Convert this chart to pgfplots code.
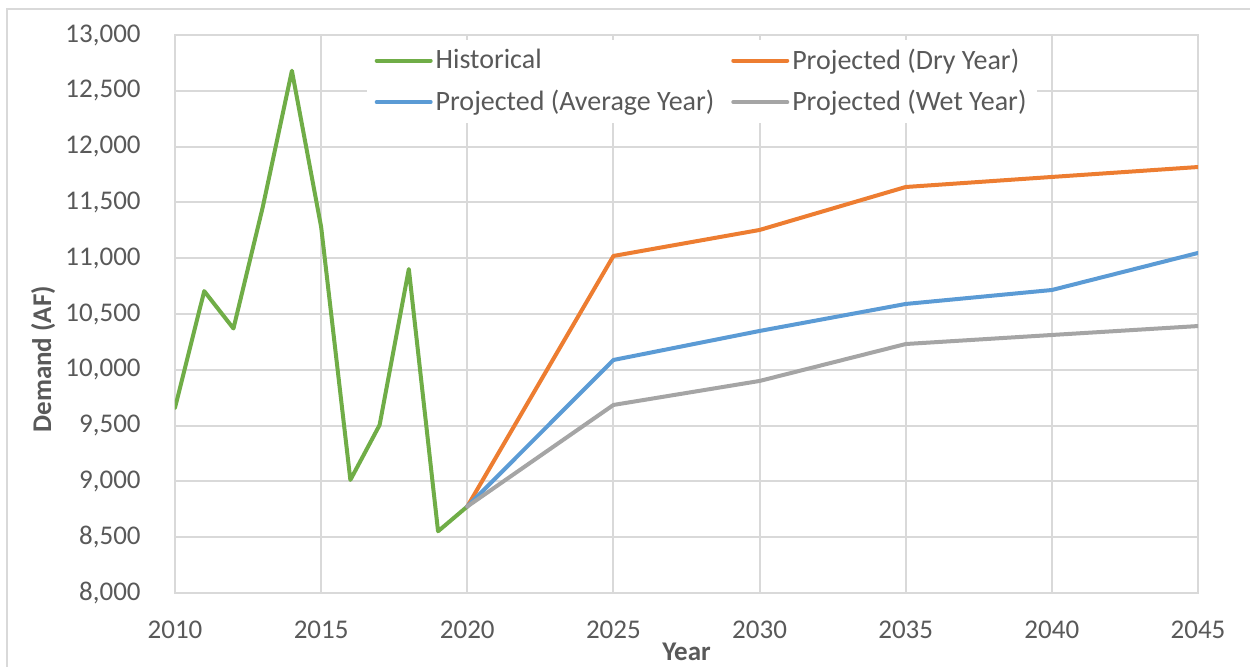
\documentclass[border=0pt]{standalone}
\usepackage{fontspec}
\setmainfont{Carlito}
\usepackage{pgfplots}
\pgfplotsset{compat=1.18}
\definecolor{txt}{HTML}{595959}
\definecolor{gridc}{HTML}{D9D9D9}
\definecolor{cgreen}{HTML}{70AD47}
\definecolor{corange}{HTML}{ED7D31}
\definecolor{cblue}{HTML}{5B9BD5}
\definecolor{cgray}{HTML}{A5A5A5}
\begin{document}
\begin{tikzpicture}
\useasboundingbox (0,0) rectangle (625pt,333pt);
\fill[white] (0,0) rectangle (625pt,333pt);
\draw[gridc, line width=1pt] (3.5pt,-5pt) -- (3.5pt,328.5pt) -- (630pt,328.5pt);
\begin{axis}[
  scale only axis,
  width=511.5pt, height=279pt,
  at={(87.5pt,36.5pt)}, anchor=south west,
  xmin=2010, xmax=2045, ymin=8000, ymax=13000,
  xtick={2010,2015,...,2045},
  ytick={8000,8500,...,13000},
  scaled y ticks=false,
  grid=major,
  major grid style={gridc, line width=1pt},
  axis line style={gridc, line width=1pt},
  major tick length=0pt,
  font=\fontsize{13.5}{16}\selectfont,
  tick label style={font=\fontsize{13.5}{16}\selectfont, text=txt},
  /pgf/number format/assume math mode=true,
  yticklabel style={/pgf/number format/1000 sep={,}, inner sep=0pt, xshift=-17pt},
  xticklabel style={/pgf/number format/1000 sep={}, inner sep=0pt, anchor=north, yshift=-14pt},
  xlabel={Year},
  ylabel={Demand (AF)},
  label style={font=\fontsize{13.5}{16}\selectfont\bfseries, text=txt},
  xlabel style={at={(axis description cs:0.5,0)}, anchor=base, yshift=-33.5pt},
  ylabel style={at={(axis description cs:-0.129,0.419)}, anchor=center},
  legend columns=2,
  legend cell align=left,
  legend image code/.code={\draw[#1, line cap=round] (0pt,0pt) -- (27pt,0pt);},
  legend style={
    at={(axis description cs:0.187,0.992)}, anchor=north west,
    draw=none, fill=white, text=txt,
    font=\fontsize{14}{16.5}\selectfont,
    inner xsep=4pt, inner ysep=3pt,
    row sep=6pt,
    nodes={inner sep=1.5pt},
    /tikz/every even column/.append style={column sep=7pt},
  },
  every axis plot/.append style={line width=2pt, line join=round, line cap=round},
]
\addplot[cgreen] coordinates {
 (2010,9660) (2011,10705) (2012,10370) (2013,11455) (2014,12680) (2015,11280)
 (2016,9013) (2017,9505) (2018,10903) (2019,8553) (2020,8775)};
\addlegendentry{Historical}
\addplot[corange] coordinates {
 (2020,8775) (2025,11020) (2030,11253) (2035,11638) (2040,11728) (2045,11817)};
\addlegendentry{Projected (Dry Year)}
\addplot[cblue] coordinates {
 (2020,8775) (2025,10088) (2030,10348) (2035,10590) (2040,10715) (2045,11047)};
\addlegendentry{Projected (Average Year)}
\addplot[cgray] coordinates {
 (2020,8775) (2025,9685) (2030,9900) (2035,10231) (2040,10312) (2045,10392)};
\addlegendentry{Projected (Wet Year)}
\end{axis}
\end{tikzpicture}
\end{document}
